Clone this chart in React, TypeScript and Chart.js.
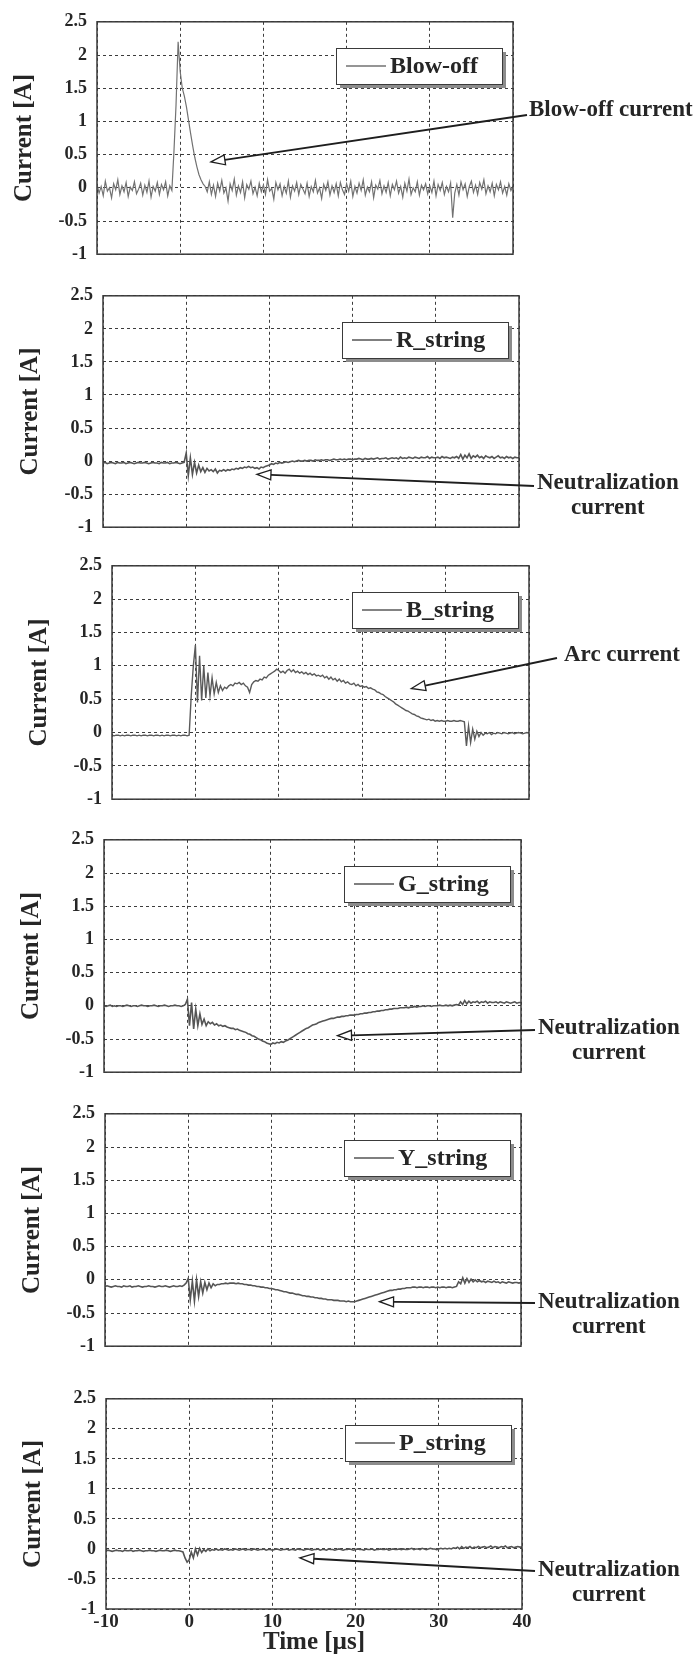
import React, { useEffect, useRef } from 'react';
import { Chart, registerables } from 'chart.js';

Chart.register(...registerables);

// ---------------- data ----------------
const TIME_US = [
  -10, -9.75, -9.5, -9.25, -9, -8.75, -8.5, -8.25, -8, -7.75, -7.5, -7.25, -7, -6.75, -6.5, -6.25, -6, -5.75, -5.5, -5.25,
  -5, -4.75, -4.5, -4.25, -4, -3.75, -3.5, -3.25, -3, -2.75, -2.5, -2.25, -2, -1.75, -1.5, -1.25, -1, -0.75, -0.5, -0.25,
  0, 0.25, 0.5, 0.75, 1, 1.25, 1.5, 1.75, 2, 2.25, 2.5, 2.75, 3, 3.25, 3.5, 3.75, 4, 4.25, 4.5, 4.75,
  5, 5.25, 5.5, 5.75, 6, 6.25, 6.5, 6.75, 7, 7.25, 7.5, 7.75, 8, 8.25, 8.5, 8.75, 9, 9.25, 9.5, 9.75,
  10, 10.25, 10.5, 10.75, 11, 11.25, 11.5, 11.75, 12, 12.25, 12.5, 12.75, 13, 13.25, 13.5, 13.75, 14, 14.25, 14.5, 14.75,
  15, 15.25, 15.5, 15.75, 16, 16.25, 16.5, 16.75, 17, 17.25, 17.5, 17.75, 18, 18.25, 18.5, 18.75, 19, 19.25, 19.5, 19.75,
  20, 20.25, 20.5, 20.75, 21, 21.25, 21.5, 21.75, 22, 22.25, 22.5, 22.75, 23, 23.25, 23.5, 23.75, 24, 24.25, 24.5, 24.75,
  25, 25.25, 25.5, 25.75, 26, 26.25, 26.5, 26.75, 27, 27.25, 27.5, 27.75, 28, 28.25, 28.5, 28.75, 29, 29.25, 29.5, 29.75,
  30, 30.25, 30.5, 30.75, 31, 31.25, 31.5, 31.75, 32, 32.25, 32.5, 32.75, 33, 33.25, 33.5, 33.75, 34, 34.25, 34.5, 34.75,
  35, 35.25, 35.5, 35.75, 36, 36.25, 36.5, 36.75, 37, 37.25, 37.5, 37.75, 38, 38.25, 38.5, 38.75, 39, 39.25, 39.5, 39.75,
  40,
];

const BLOW_OFF = [
  0.05, -0.08, 0.02, -0.12, 0.1, -0.05, 0.0, -0.15, 0.06, -0.03, 0.12, -0.1, 0.03, -0.06, 0.08, -0.13, 0.01, -0.04, 0.09, -0.09,
  -0.02, 0.07, -0.11, 0.04, -0.07, 0.1, -0.14, 0.02, -0.05, 0.08, -0.1, 0.05, -0.03, 0.09, -0.12, 0.03, -0.04, 0.55, 1.25, 2.2,
  1.75, 1.5, 1.38, 1.22, 1.02, 0.82, 0.63, 0.46, 0.32, 0.2, 0.12, 0.06, 0.02, -0.06, 0.09, -0.1, 0.04, -0.13, 0.07, -0.05,
  0.11, -0.08, 0.0, -0.2, 0.06, -0.04, 0.13, -0.11, 0.03, -0.07, 0.09, -0.15, 0.05, -0.02, 0.1, -0.09, 0.01, -0.12, 0.07, -0.06,
  0.04, -0.1, 0.12, -0.05, -0.01, -0.17, 0.08, -0.03, 0.06, -0.12, 0.02, -0.08, 0.1, -0.14, 0.03, -0.05, 0.08, -0.1, 0.05, -0.02,
  -0.09, 0.07, -0.13, 0.02, -0.06, 0.11, -0.08, 0.0, -0.16, 0.05, -0.04, 0.09, -0.11, 0.03, -0.07, 0.06, -0.12, 0.08, -0.03, -0.1,
  0.06, -0.05, 0.1, -0.13, 0.02, -0.08, 0.07, -0.04, 0.12, -0.11, 0.01, -0.06, 0.09, -0.15, 0.04, -0.02, 0.11, -0.09, 0.03, -0.07,
  0.08, -0.12, 0.05, -0.03, 0.1, -0.08, 0.02, -0.14, 0.07, -0.05, 0.13, -0.1, 0.0, -0.06, 0.09, -0.11, 0.04, -0.03, 0.06, -0.09,
  0.03, -0.07, 0.1, -0.12, 0.05, -0.04, 0.08, -0.1, 0.02, -0.06, 0.07, -0.45, -0.08, 0.05, -0.11, 0.09, -0.03, 0.06, -0.13, 0.02,
  0.1, -0.07, 0.04, -0.1, 0.08, -0.02, 0.12, -0.09, 0.03, -0.06, 0.07, -0.12, 0.05, -0.03, 0.09, -0.08, 0.02, -0.11, 0.06, -0.04,
  0.03,
];

const R_STRING = [
  -0.03, -0.02, -0.04, -0.03, -0.02, -0.03, -0.04, -0.02, -0.03, -0.03, -0.02, -0.04, -0.03, -0.02, -0.03, -0.04, -0.03, -0.02, -0.03, -0.03,
  -0.02, -0.03, -0.04, -0.03, -0.02, -0.03, -0.03, -0.04, -0.02, -0.03, -0.03, -0.02, -0.04, -0.03, -0.03, -0.02, -0.03, -0.04, -0.03, -0.02,
  0.12, -0.22, 0.05, -0.2, -0.02, -0.18, -0.06, -0.16, -0.1, -0.17, -0.11, -0.15, -0.13, -0.16, -0.12, -0.18, -0.14, -0.15, -0.13, -0.15,
  -0.13, -0.14, -0.12, -0.13, -0.11, -0.12, -0.1, -0.11, -0.09, -0.1, -0.08, -0.1, -0.09, -0.11, -0.1, -0.12, -0.09, -0.1, -0.08, -0.07,
  -0.06, -0.04, -0.05, -0.03, -0.04, -0.02, -0.03, -0.02, -0.01, -0.02, -0.01, 0.0, -0.01, 0.0, 0.01, 0.0, 0.0, 0.01, 0.0, 0.01,
  0.01, 0.0, 0.02, 0.01, 0.01, 0.02, 0.01, 0.02, 0.02, 0.01, 0.02, 0.03, 0.02, 0.02, 0.03, 0.02, 0.03, 0.02, 0.03, 0.03,
  0.02, 0.03, 0.03, 0.04, 0.03, 0.02, 0.04, 0.03, 0.03, 0.04, 0.03, 0.04, 0.05, 0.03, 0.04, 0.04, 0.05, 0.03, 0.04, 0.05,
  0.04, 0.05, 0.03, 0.06, 0.04, 0.05, 0.04, 0.06, 0.05, 0.04, 0.06, 0.05, 0.04, 0.06, 0.05, 0.05, 0.07, 0.04, 0.06, 0.05,
  0.05, 0.06, 0.04, 0.07, 0.05, 0.06, 0.05, 0.04, 0.06, 0.05, 0.07, 0.04, 0.1, 0.03, 0.09, 0.05, 0.11, 0.04, 0.08, 0.06,
  0.09, 0.05, 0.07, 0.04, 0.08, 0.06, 0.05, 0.07, 0.04, 0.06, 0.08, 0.05, 0.06, 0.04, 0.07, 0.05, 0.06, 0.04, 0.06, 0.05,
  0.05,
];

const B_STRING = [
  -0.04, -0.05, -0.04, -0.04, -0.05, -0.04, -0.05, -0.04, -0.04, -0.05, -0.04, -0.04, -0.05, -0.04, -0.05, -0.04, -0.04, -0.05, -0.04, -0.04,
  -0.05, -0.04, -0.04, -0.05, -0.04, -0.05, -0.04, -0.04, -0.05, -0.04, -0.04, -0.05, -0.04, -0.05, -0.04, -0.04, -0.05, -0.04, 0.55, 1.0,
  1.31, 0.45, 1.15, 0.48, 1.0, 0.52, 0.9, 0.55, 0.82, 0.58, 0.75, 0.6, 0.7, 0.63, 0.68, 0.66, 0.7, 0.72, 0.7, 0.74,
  0.73, 0.75, 0.72, 0.74, 0.7, 0.68, 0.6, 0.72, 0.76, 0.78, 0.77, 0.8, 0.79, 0.83, 0.82, 0.86, 0.88, 0.9, 0.92, 0.95,
  0.93, 0.9, 0.92, 0.89, 0.93, 0.95, 0.91, 0.94, 0.9, 0.92, 0.89, 0.91, 0.88, 0.9, 0.87, 0.89, 0.86, 0.88, 0.85, 0.86,
  0.84, 0.86, 0.82, 0.84, 0.8, 0.83, 0.79, 0.81, 0.77, 0.8, 0.76, 0.78, 0.74, 0.76, 0.73, 0.72, 0.74, 0.7, 0.72, 0.69,
  0.7, 0.68, 0.69, 0.66, 0.67, 0.65, 0.64, 0.61, 0.6, 0.58, 0.57, 0.54, 0.52, 0.5, 0.48, 0.46, 0.43, 0.41, 0.39, 0.37,
  0.35, 0.33, 0.32, 0.3, 0.28, 0.27, 0.25, 0.24, 0.22, 0.21, 0.2, 0.19, 0.2, 0.18, 0.19, 0.17, 0.18, 0.17, 0.18, 0.17,
  0.17, 0.18, 0.17, 0.17, 0.18, 0.17, 0.17, 0.18, 0.17, 0.16, -0.2, 0.1, -0.15, 0.05, -0.1, 0.02, -0.06, 0.0, -0.04, -0.01,
  -0.02, 0.0, -0.03, -0.01, -0.02, 0.0, -0.01, -0.02, 0.0, -0.01, -0.02, -0.01, 0.0, -0.02, -0.01, 0.0, -0.01, -0.02, -0.01, 0.0,
  -0.01,
];

const G_STRING = [
  0.0, -0.01, 0.0, 0.01, -0.01, 0.0, -0.01, 0.0, 0.0, -0.01, 0.0, 0.01, 0.0, -0.01, 0.0, 0.0, -0.01, 0.0, 0.01, 0.0,
  0.0, -0.01, 0.0, 0.0, 0.01, 0.0, -0.01, 0.0, 0.0, 0.01, 0.0, -0.01, 0.0, 0.0, 0.01, 0.0, 0.0, -0.01, 0.0, 0.02,
  0.1, -0.3, 0.05, -0.35, -0.05, -0.3, -0.12, -0.28, -0.2, -0.3, -0.24, -0.27, -0.25, -0.29, -0.27, -0.3, -0.29, -0.31, -0.3, -0.32,
  -0.33, -0.34, -0.34, -0.36, -0.35, -0.37, -0.38, -0.39, -0.4, -0.42, -0.43, -0.45, -0.46, -0.48, -0.5, -0.51, -0.53, -0.54, -0.56, -0.57,
  -0.58, -0.56, -0.57, -0.55, -0.56, -0.54, -0.55, -0.53, -0.52, -0.5, -0.48, -0.46, -0.44, -0.42, -0.4, -0.38, -0.36, -0.34, -0.33, -0.31,
  -0.29, -0.28, -0.27, -0.25, -0.24, -0.23, -0.22, -0.21, -0.2, -0.19, -0.19, -0.18, -0.17, -0.17, -0.16, -0.16, -0.15, -0.15, -0.14, -0.14,
  -0.14, -0.13, -0.13, -0.12, -0.12, -0.11, -0.11, -0.1, -0.1, -0.09, -0.09, -0.08, -0.08, -0.07, -0.07, -0.06, -0.06, -0.05, -0.05, -0.04,
  -0.04, -0.04, -0.03, -0.03, -0.03, -0.02, -0.03, -0.02, -0.02, -0.01, -0.02, -0.01, -0.01, 0.0, -0.01, 0.0, 0.0, -0.01, 0.0, 0.0,
  0.0, 0.01, 0.0, 0.0, 0.01, 0.0, 0.01, 0.0, 0.01, 0.02, 0.01, 0.06, 0.02, 0.08, 0.03, 0.07, 0.04, 0.06, 0.05, 0.07,
  0.04, 0.06, 0.05, 0.07, 0.04, 0.06, 0.05, 0.05, 0.06, 0.04, 0.06, 0.05, 0.04, 0.06, 0.05, 0.04, 0.05, 0.06, 0.04, 0.05,
  0.05,
];

const Y_STRING = [
  -0.1, -0.09, -0.1, -0.11, -0.1, -0.09, -0.1, -0.1, -0.11, -0.09, -0.1, -0.1, -0.09, -0.11, -0.1, -0.1, -0.09, -0.1, -0.11, -0.1,
  -0.1, -0.09, -0.1, -0.1, -0.11, -0.1, -0.09, -0.1, -0.1, -0.09, -0.1, -0.11, -0.1, -0.09, -0.1, -0.1, -0.09, -0.1, -0.08, -0.05,
  0.02, -0.3, -0.02, -0.32, 0.0, -0.25, -0.03, -0.2, -0.04, -0.15, -0.05, -0.12, -0.06, -0.09, -0.07, -0.07, -0.06, -0.06, -0.05, -0.06,
  -0.05, -0.05, -0.05, -0.06, -0.05, -0.06, -0.06, -0.07, -0.07, -0.08, -0.08, -0.09, -0.09, -0.1, -0.1, -0.11, -0.11, -0.12, -0.12, -0.13,
  -0.13, -0.14, -0.15, -0.15, -0.16, -0.17, -0.18, -0.18, -0.19, -0.2, -0.2, -0.21, -0.22, -0.22, -0.23, -0.24, -0.24, -0.25, -0.25, -0.26,
  -0.26, -0.27, -0.27, -0.28, -0.28, -0.29, -0.29, -0.3, -0.3, -0.3, -0.31, -0.31, -0.31, -0.32, -0.32, -0.32, -0.33, -0.32, -0.33, -0.33,
  -0.33, -0.32, -0.31, -0.3, -0.29, -0.28, -0.27, -0.26, -0.25, -0.24, -0.23, -0.22, -0.21, -0.2, -0.19, -0.18, -0.17, -0.16, -0.16, -0.15,
  -0.15, -0.14, -0.14, -0.13, -0.13, -0.12, -0.12, -0.12, -0.11, -0.11, -0.12, -0.11, -0.11, -0.12, -0.11, -0.11, -0.12, -0.11, -0.11, -0.12,
  -0.11, -0.12, -0.11, -0.11, -0.12, -0.11, -0.11, -0.12, -0.11, -0.1, -0.03, -0.06, 0.03, -0.05, 0.02, -0.04, 0.01, -0.03, 0.0, -0.03,
  -0.01, -0.03, -0.02, -0.04, -0.02, -0.03, -0.04, -0.02, -0.04, -0.03, -0.05, -0.03, -0.04, -0.05, -0.03, -0.04, -0.05, -0.04, -0.04, -0.05,
  -0.04,
];

const P_STRING = [
  -0.03, -0.02, -0.03, -0.04, -0.03, -0.02, -0.03, -0.03, -0.04, -0.02, -0.03, -0.03, -0.02, -0.04, -0.03, -0.03, -0.02, -0.03, -0.04, -0.03,
  -0.03, -0.02, -0.03, -0.03, -0.04, -0.03, -0.02, -0.03, -0.03, -0.02, -0.03, -0.04, -0.03, -0.02, -0.03, -0.03, -0.04, -0.05, -0.15, -0.22,
  -0.18, -0.05, -0.15, 0.0, -0.1, 0.01, -0.06, -0.01, -0.04, 0.0, -0.03, -0.01, -0.02, 0.0, -0.02, -0.01, -0.02, 0.0, -0.01, -0.02,
  -0.01, -0.02, 0.0, -0.01, -0.02, -0.01, 0.0, -0.02, -0.01, -0.01, -0.02, 0.0, -0.01, -0.02, -0.01, -0.01, 0.0, -0.02, -0.01, -0.01,
  -0.02, -0.01, 0.0, -0.01, -0.02, -0.01, -0.01, 0.0, -0.02, -0.01, -0.01, -0.02, 0.0, -0.01, -0.01, -0.02, -0.01, 0.0, -0.01, -0.02,
  -0.01, -0.01, 0.0, -0.02, -0.01, -0.01, -0.02, 0.0, -0.01, -0.01, -0.02, -0.01, 0.0, -0.01, -0.02, -0.01, -0.01, 0.0, -0.01, -0.02,
  -0.01, 0.0, -0.01, -0.01, -0.02, 0.0, -0.01, -0.01, 0.0, -0.02, -0.01, -0.01, 0.0, -0.01, -0.01, 0.0, -0.02, -0.01, 0.0, -0.01,
  -0.01, 0.0, -0.01, 0.0, -0.01, -0.01, 0.0, 0.01, -0.01, 0.0, 0.0, -0.01, 0.01, 0.0, -0.01, 0.0, 0.01, 0.0, 0.0, -0.01,
  0.0, 0.01, 0.0, 0.01, 0.0, 0.01, 0.0, 0.02, 0.01, 0.03, 0.0, 0.04, 0.01, 0.03, 0.02, 0.04, 0.01, 0.03, 0.02, 0.04,
  0.02, 0.03, 0.04, 0.02, 0.03, 0.05, 0.02, 0.04, 0.03, 0.02, 0.04, 0.03, 0.05, 0.02, 0.03, 0.04, 0.02, 0.03, 0.04, 0.03,
  0.03,
];

const SERIES_NAMES = ['Blow-off', 'R_string', 'B_string', 'G_string', 'Y_string', 'P_string'];
const X_TICK_STEP = 10;
const Y_TICK_STEP = 0.5;
const X_RANGE = [-10, 40];
const Y_RANGE = [-1, 2.5];
const X_TICK_LABELS: Record<string, string> = { '-10': '-10', '0': '0', '10': '10', '20': '20', '30': '30', '40': '40' };
const Y_TICK_LABELS: Record<string, string> = {
  '2.5': '2.5', '2': '2', '1.5': '1.5', '1': '1', '0.5': '0.5', '0': '0', '-0.5': '-0.5', '-1': '-1',
};
const Y_TITLE = 'Current [A]';
const X_TITLE = 'Time [µs]';

// annotation targets (data coordinates the arrows point at)
const NOTE_TEXT = [
  ['Blow-off current'],
  ['Neutralization', 'current'],
  ['Arc current'],
  ['Neutralization', 'current'],
  ['Neutralization', 'current'],
  ['Neutralization', 'current'],
];
const NOTE_TIP_T = [3.7, 8.5, 25.9, 18.0, 23.0, 13.3];
const NOTE_TIP_V = [0.39, -0.2, 0.66, -0.45, -0.33, -0.15];

// ---------------- layout (page pixels) ----------------
const PAGE_W = 695;
const LAYOUT = [
  { left: 97, right: 513, top: 21, bottom: 255, textX: 529, textY: 110, fromX: 527, fromY: 115 },
  { left: 103, right: 519, top: 295, bottom: 528, textX: 537, textY: 483, fromX: 534, fromY: 486 },
  { left: 112, right: 529, top: 565, bottom: 800, textX: 564, textY: 655, fromX: 557, fromY: 658 },
  { left: 104, right: 521, top: 839, bottom: 1073, textX: 538, textY: 1028, fromX: 535, fromY: 1030 },
  { left: 105, right: 521, top: 1113, bottom: 1347, textX: 538, textY: 1302, fromX: 535, fromY: 1303 },
  { left: 106, right: 522, top: 1398, bottom: 1609, textX: 538, textY: 1570, fromX: 535, fromY: 1571 },
];
const SERIES_VALUES = [BLOW_OFF, R_STRING, B_STRING, G_STRING, Y_STRING, P_STRING];

const SERIF = '"Liberation Serif", "Times New Roman", serif';
const INK = '#262626';
const GRID = '#3c3c3c';
const TRACE = ['#727272', '#555555', '#5a5a5a', '#555555', '#555555', '#555555'];
const TRACE_W = [1.2, 1.6, 1.4, 1.6, 1.6, 1.6];

const decoPlugin = {
  id: 'panelDeco',
  afterDraw(chart: any, _args: any, opts: any) {
    const { ctx, chartArea: a, scales } = chart;
    ctx.save();
    ctx.setLineDash([]);
    // frame
    ctx.strokeStyle = '#3a3a3a';
    ctx.lineWidth = 1.5;
    ctx.strokeRect(a.left, a.top, a.right - a.left, a.bottom - a.top);

    // legend box with shadow
    const ds = chart.data.datasets[0];
    const bw = 166;
    const bh = 36;
    const bx = Math.round(a.right - 11 - bw);
    const by = Math.round(a.top + 26);
    ctx.fillStyle = '#8c8c8c';
    ctx.fillRect(bx + 4, by + 4, bw, bh);
    ctx.fillStyle = '#ffffff';
    ctx.fillRect(bx, by, bw, bh);
    ctx.strokeStyle = '#3a3a3a';
    ctx.lineWidth = 1;
    ctx.strokeRect(bx + 0.5, by + 0.5, bw, bh);
    ctx.strokeStyle = ds.borderColor;
    ctx.lineWidth = 1.5;
    ctx.beginPath();
    ctx.moveTo(bx + 10, by + bh / 2);
    ctx.lineTo(bx + 50, by + bh / 2);
    ctx.stroke();
    ctx.fillStyle = INK;
    ctx.font = `bold 24px ${SERIF}`;
    ctx.textAlign = 'left';
    ctx.textBaseline = 'middle';
    ctx.fillText(ds.label, bx + 54, by + bh / 2 + 1);

    // annotation text + arrow
    const off = opts.canvasTop;
    const lines: string[] = opts.lines;
    ctx.font = `bold 23px ${SERIF}`;
    const w0 = ctx.measureText(lines[0]).width;
    ctx.textAlign = 'left';
    ctx.fillText(lines[0], opts.textX, opts.textY - off);
    if (lines.length > 1) {
      ctx.textAlign = 'center';
      for (let k = 1; k < lines.length; k++) {
        ctx.fillText(lines[k], opts.textX + w0 / 2, opts.textY - off + 25 * k);
      }
    }
    const tx = scales.x.getPixelForValue(opts.tipT);
    const ty = scales.y.getPixelForValue(opts.tipV);
    const fx = opts.fromX;
    const fy = opts.fromY - off;
    const ang = Math.atan2(ty - fy, tx - fx);
    const len = 14;
    const half = 5;
    const bxp = tx - Math.cos(ang) * len;
    const byp = ty - Math.sin(ang) * len;
    ctx.strokeStyle = '#1e1e1e';
    ctx.lineWidth = 1.8;
    ctx.beginPath();
    ctx.moveTo(fx, fy);
    ctx.lineTo(bxp, byp);
    ctx.stroke();
    ctx.beginPath();
    ctx.moveTo(tx, ty);
    ctx.lineTo(bxp - Math.sin(ang) * half, byp + Math.cos(ang) * half);
    ctx.lineTo(bxp + Math.sin(ang) * half, byp - Math.cos(ang) * half);
    ctx.closePath();
    ctx.fillStyle = '#ffffff';
    ctx.fill();
    ctx.lineWidth = 1.3;
    ctx.stroke();
    ctx.restore();
  },
};

function Panel({ idx }: { idx: number }) {
  const ref = useRef<HTMLCanvasElement>(null);
  const lay = LAYOUT[idx];
  const showX = idx === LAYOUT.length - 1;
  const canvasTop = lay.top - 20;
  const extra = showX ? 50 : 20;
  const height = lay.bottom - lay.top + 20 + extra;

  useEffect(() => {
    if (!ref.current) return;
    const values = SERIES_VALUES[idx];
    const chart = new Chart(ref.current, {
      type: 'line',
      data: {
        datasets: [
          {
            label: SERIES_NAMES[idx],
            data: TIME_US.map((t, i) => ({ x: t, y: values[i] })),
            borderColor: TRACE[idx],
            borderWidth: TRACE_W[idx],
            pointRadius: 0,
            tension: 0,
            fill: false,
          },
        ],
      },
      options: {
        responsive: false,
        animation: false,
        devicePixelRatio: 1,
        events: [],
        layout: {
          autoPadding: false,
          padding: { left: 0, right: PAGE_W - lay.right, top: 20, bottom: showX ? 0 : 20 },
        },
        plugins: {
          legend: { display: false },
          tooltip: { enabled: false },
          panelDeco: {
            canvasTop,
            lines: NOTE_TEXT[idx],
            textX: lay.textX,
            textY: lay.textY,
            fromX: lay.fromX,
            fromY: lay.fromY,
            tipT: NOTE_TIP_T[idx],
            tipV: NOTE_TIP_V[idx],
          },
        } as any,
        scales: {
          x: {
            type: 'linear',
            min: X_RANGE[0],
            max: X_RANGE[1],
            ticks: {
              stepSize: X_TICK_STEP,
              display: showX,
              color: INK,
              font: { family: SERIF, size: 19, weight: 'bold' },
              padding: 2,
              maxRotation: 0,
              callback: (v: any) => X_TICK_LABELS[String(Math.round(Number(v) * 100) / 100)] ?? String(v),
            },
            grid: { color: GRID, lineWidth: 1, drawTicks: false },
            border: { display: false, dash: [3, 3] },
            title: {
              display: showX,
              text: X_TITLE,
              color: INK,
              font: { family: SERIF, size: 25, weight: 'bold' },
              padding: { top: 0, bottom: 1 },
            },
            afterFit: (s: any) => {
              s.height = showX ? 50 : 0;
            },
          },
          y: {
            type: 'linear',
            min: Y_RANGE[0],
            max: Y_RANGE[1],
            ticks: {
              stepSize: Y_TICK_STEP,
              color: INK,
              font: { family: SERIF, size: 18, weight: 'bold' },
              padding: 10,
              callback: (v: any) => Y_TICK_LABELS[String(Math.round(Number(v) * 100) / 100)] ?? String(v),
            },
            grid: { color: GRID, lineWidth: 1, drawTicks: false },
            border: { display: false, dash: [3, 3] },
            title: {
              display: true,
              text: Y_TITLE,
              color: INK,
              font: { family: SERIF, size: 25, weight: 'bold' },
              padding: { top: lay.left - 87, bottom: 0 },
            },
            afterFit: (s: any) => {
              s.width = lay.left;
            },
          },
        },
      } as any,
      plugins: [decoPlugin],
    });
    return () => chart.destroy();
  }, [idx]);

  return (
    <canvas
      ref={ref}
      width={PAGE_W}
      height={height}
      style={{ position: 'absolute', left: 0, top: canvasTop, width: PAGE_W, height }}
    />
  );
}

export default function App() {
  return (
    <div
      style={{
        position: 'absolute',
        left: 0,
        top: 0,
        width: PAGE_W,
        height: 1659,
        background: '#ffffff',
        overflow: 'hidden',
      }}
    >
      {LAYOUT.map((_, i) => (
        <Panel key={i} idx={i} />
      ))}
    </div>
  );
}
